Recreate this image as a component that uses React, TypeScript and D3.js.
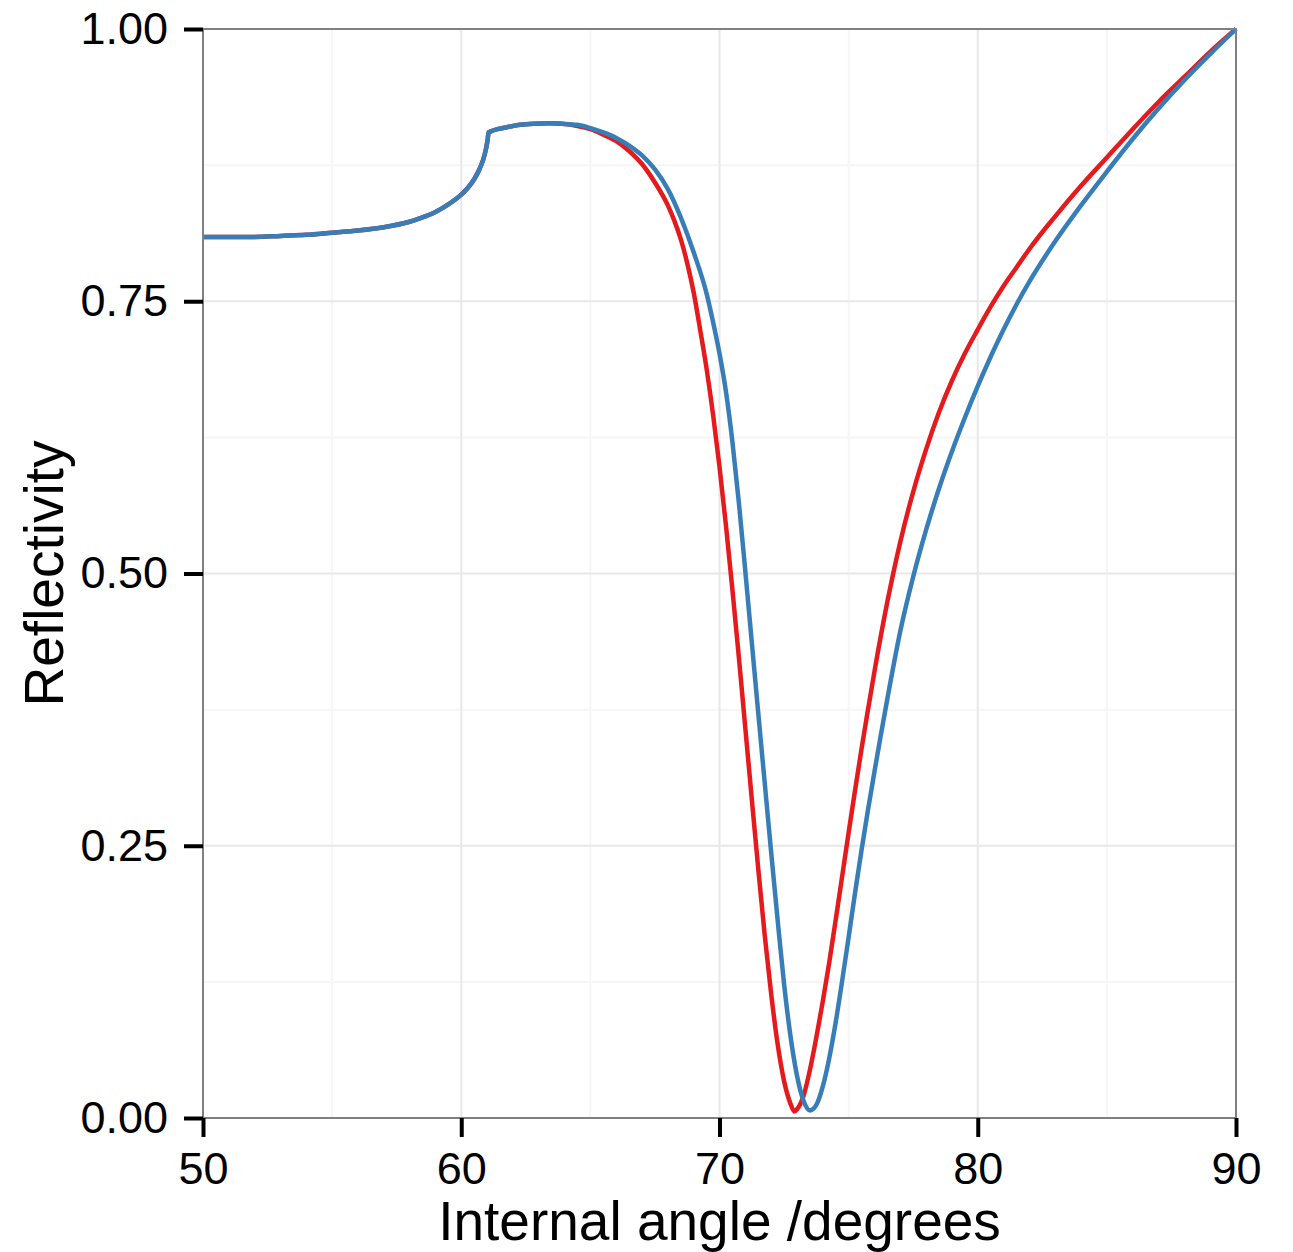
import React, { useEffect, useRef } from 'react';
import * as d3 from 'd3';

// angle (degrees) / reflectivity
// both curves lie on top of each other up to ~64 degrees
const sharedAngle = [50, 51, 52, 53, 54, 55, 56, 57, 58, 58.5, 59, 59.5, 60, 60.25, 60.5, 60.7, 60.85, 60.95, 61.02, 61.06, 61.15, 61.4, 61.8, 62.3, 62.8, 63.4, 63.9];
const sharedR = [0.809, 0.809, 0.809, 0.810, 0.811, 0.813, 0.815, 0.818, 0.823, 0.827, 0.832, 0.839, 0.848, 0.854, 0.862, 0.871, 0.880, 0.889, 0.898, 0.905, 0.906, 0.908, 0.910, 0.912, 0.913, 0.9135, 0.913];

const redAngle = [64.5, 65, 65.5, 66, 66.5, 67, 67.5, 68, 68.25, 68.5, 68.75, 69, 69.25, 69.5, 69.75, 70, 70.25, 70.5, 70.75, 71, 71.25, 71.5, 71.75, 72, 72.25, 72.5, 72.75, 72.9, 73, 73.25, 73.5, 73.75, 74, 74.25, 74.5, 74.75, 75, 75.25, 75.5, 75.75, 76, 76.5, 77, 77.5, 78, 78.5, 79, 79.5, 80, 80.5, 81, 81.5, 82, 83, 84, 85, 86, 87, 88, 89, 90];
const redR = [0.911, 0.908, 0.903, 0.897, 0.888, 0.876, 0.859, 0.838, 0.824, 0.807, 0.785, 0.758, 0.724, 0.688, 0.646, 0.598, 0.544, 0.485, 0.423, 0.358, 0.293, 0.229, 0.168, 0.114, 0.068, 0.034, 0.013, 0.006, 0.008, 0.020, 0.044, 0.074, 0.107, 0.143, 0.182, 0.222, 0.262, 0.301, 0.339, 0.375, 0.410, 0.474, 0.529, 0.575, 0.614, 0.648, 0.677, 0.702, 0.724, 0.745, 0.764, 0.781, 0.798, 0.828, 0.856, 0.882, 0.908, 0.933, 0.956, 0.979, 1.0];

const blueAngle = [64.5, 65, 65.5, 66, 66.5, 67, 67.5, 68, 68.5, 69, 69.5, 69.75, 70, 70.25, 70.5, 70.75, 71, 71.25, 71.5, 71.75, 72, 72.25, 72.5, 72.75, 73, 73.25, 73.5, 73.75, 74, 74.25, 74.5, 74.75, 75, 75.25, 75.5, 75.75, 76, 76.25, 76.5, 77, 77.5, 78, 78.5, 79, 79.5, 80, 80.5, 81, 81.5, 82, 83, 84, 85, 86, 87, 88, 89, 90];
const blueR = [0.912, 0.909, 0.905, 0.900, 0.893, 0.884, 0.871, 0.853, 0.827, 0.795, 0.757, 0.731, 0.702, 0.667, 0.621, 0.565, 0.502, 0.437, 0.372, 0.308, 0.244, 0.182, 0.123, 0.075, 0.039, 0.016, 0.007, 0.012, 0.029, 0.055, 0.088, 0.126, 0.166, 0.207, 0.246, 0.283, 0.318, 0.352, 0.385, 0.447, 0.497, 0.540, 0.578, 0.612, 0.643, 0.672, 0.699, 0.724, 0.747, 0.768, 0.805, 0.838, 0.869, 0.899, 0.927, 0.953, 0.977, 1.0];

const xTicks = [50, 60, 70, 80, 90];
const xMinor = [55, 65, 75, 85];
const yTicks = [0, 0.25, 0.5, 0.75, 1];
const yMinor = [0.125, 0.375, 0.625, 0.875];

const seriesColors = ['#E41A1C', '#377EB8'];

const W = 1293;
const H = 1252;
const margin = { top: 29, right: 57, bottom: 134, left: 203 };

export default function App() {
  const ref = useRef<SVGSVGElement | null>(null);

  useEffect(() => {
    const svg = d3.select(ref.current);
    svg.selectAll('*').remove();

    const iw = W - margin.left - margin.right;
    const ih = H - margin.top - margin.bottom;

    const x = d3.scaleLinear().domain([50, 90]).range([0, iw]);
    const y = d3.scaleLinear().domain([0, 1]).range([ih, 0]);

    const toPoints = (a: number[], r: number[]) => a.map((v, i) => [v, r[i]] as [number, number]);
    const series = [
      toPoints(sharedAngle, sharedR).concat(toPoints(redAngle, redR)),
      toPoints(sharedAngle, sharedR).concat(toPoints(blueAngle, blueR)),
    ];

    const g = svg.append('g').attr('transform', `translate(${margin.left},${margin.top})`);

    // minor grid
    g.selectAll('.xminor').data(xMinor).join('line')
      .attr('x1', d => x(d)).attr('x2', d => x(d)).attr('y1', 0).attr('y2', ih)
      .attr('stroke', '#f6f6f6').attr('stroke-width', 2);
    g.selectAll('.yminor').data(yMinor).join('line')
      .attr('y1', d => y(d)).attr('y2', d => y(d)).attr('x1', 0).attr('x2', iw)
      .attr('stroke', '#f6f6f6').attr('stroke-width', 2);

    // major grid
    g.selectAll('.xmajor').data(xTicks).join('line')
      .attr('x1', d => x(d)).attr('x2', d => x(d)).attr('y1', 0).attr('y2', ih)
      .attr('stroke', '#e8e8e8').attr('stroke-width', 2);
    g.selectAll('.ymajor').data(yTicks).join('line')
      .attr('y1', d => y(d)).attr('y2', d => y(d)).attr('x1', 0).attr('x2', iw)
      .attr('stroke', '#e8e8e8').attr('stroke-width', 2);

    const line = d3.line<[number, number]>()
      .x(d => x(d[0]))
      .y(d => y(d[1]))
      .curve(d3.curveMonotoneX);

    g.selectAll('.series').data(series).join('path')
      .attr('d', d => line(d))
      .attr('fill', 'none')
      .attr('stroke', (d, i) => seriesColors[i])
      .attr('stroke-width', 4.5)
      .attr('stroke-linejoin', 'round');

    // panel border
    g.append('rect')
      .attr('x', 0).attr('y', 0).attr('width', iw).attr('height', ih)
      .attr('fill', 'none').attr('stroke', '#808080').attr('stroke-width', 2);

    const font = '"Liberation Sans", Arial, Helvetica, sans-serif';

    // y axis
    const yAxis = g.append('g')
      .call(d3.axisLeft(y).tickValues(yTicks).tickFormat(d3.format('.2f')).tickSize(19).tickPadding(16));
    yAxis.select('.domain').remove();
    yAxis.selectAll('line').attr('stroke', '#000').attr('stroke-width', 4);
    yAxis.selectAll('text').attr('font-size', 45).attr('font-family', font).attr('fill', '#000');

    // x axis
    const xAxis = g.append('g')
      .attr('transform', `translate(0,${ih})`)
      .call(d3.axisBottom(x).tickValues(xTicks).tickFormat(d3.format('d')).tickSize(19).tickPadding(15));
    xAxis.select('.domain').remove();
    xAxis.selectAll('line').attr('stroke', '#000').attr('stroke-width', 4);
    xAxis.selectAll('text').attr('font-size', 45).attr('font-family', font).attr('fill', '#000');

    svg.append('text')
      .attr('x', margin.left + iw / 2)
      .attr('y', 1240)
      .attr('text-anchor', 'middle')
      .attr('font-size', 55)
      .attr('font-family', font)
      .text('Internal angle /degrees');

    svg.append('text')
      .attr('transform', `translate(63,${margin.top + ih / 2}) rotate(-90)`)
      .attr('text-anchor', 'middle')
      .attr('font-size', 55)
      .attr('font-family', font)
      .text('Reflectivity');
  }, []);

  return (
    <svg
      ref={ref}
      width={W}
      height={H}
      style={{ position: 'absolute', left: 0, top: 0, background: '#fff' }}
    />
  );
}
